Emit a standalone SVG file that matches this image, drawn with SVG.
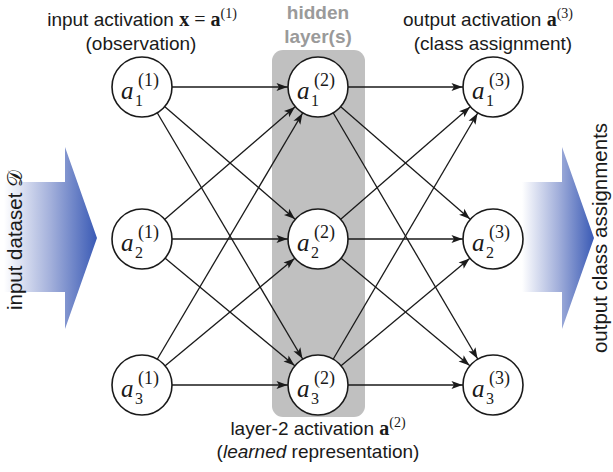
<svg xmlns="http://www.w3.org/2000/svg" width="613" height="472" viewBox="0 0 613 472">
<style>
.t{font-family:"Liberation Sans Narrow","Liberation Sans",Arial,sans-serif;font-size:19px;fill:#1a1a1a}
.mb{font-family:"Liberation Serif","Times New Roman",serif;font-weight:bold;font-size:20px}
.m{font-family:"Liberation Serif","Times New Roman",serif;font-size:20px}
.sp{font-family:"Liberation Serif","Times New Roman",serif;font-size:14px}
.hid{font-family:"Liberation Sans Narrow","Liberation Sans",Arial,sans-serif;font-weight:bold;font-size:19px;fill:#9a9a9a}
.side{font-family:"Liberation Sans Narrow","Liberation Sans",Arial,sans-serif;font-size:20.5px;fill:#1a1a1a}
.na{font-family:"Liberation Serif","Times New Roman",serif;font-style:italic;font-size:25px;fill:#1a1a1a}
.ns{font-family:"Liberation Serif","Times New Roman",serif;font-size:18px;fill:#1a1a1a}
.nb{font-family:"Liberation Serif","Times New Roman",serif;font-size:16px;fill:#1a1a1a}
.node{fill:#fff;stroke:#1a1a1a;stroke-width:1.6}
.e{stroke:#1a1a1a;stroke-width:1.3;fill:none;marker-end:url(#ah)}
</style>
<defs>
<marker id="ah" markerUnits="userSpaceOnUse" markerWidth="12" markerHeight="8" refX="41.5" refY="4" orient="auto" overflow="visible">
<path d="M0,0 L11,4 L0,8 L2.5,4 z" fill="#1a1a1a"/>
</marker>
<linearGradient id="ga" x1="0" y1="0" x2="1" y2="0">
<stop offset="0" stop-color="#ffffff"/>
<stop offset="0.5" stop-color="#a3b0db"/>
<stop offset="1" stop-color="#3a5ab5"/>
</linearGradient>
</defs>

<g id="big-arrows">
<polygon points="4,182 65,182 65,147 97,238 65,329 65,292 4,292" fill="url(#ga)"/>
<polygon points="522,182 562,182 562,147 594,238 562,329 562,292 522,292" fill="url(#ga)"/>
</g>

<g id="hidden-layer">
<rect x="272" y="50" width="93" height="367" rx="11" fill="#c0c0c0"/>
<text class="hid" x="318" y="19" text-anchor="middle">hidden</text>
<text class="hid" x="318" y="43" text-anchor="middle">layer(s)</text>
</g>

<g id="labels">
<text class="t" x="142" y="26" text-anchor="middle">input activation <tspan class="mb">x</tspan><tspan class="m"> = </tspan><tspan class="mb">a</tspan><tspan class="sp" dy="-8">(1)</tspan></text>
<text class="t" x="141" y="50" text-anchor="middle">(observation)</text>
<text class="t" x="488" y="26" text-anchor="middle">output activation <tspan class="mb">a</tspan><tspan class="sp" dy="-8">(3)</tspan></text>
<text class="t" x="493" y="50" text-anchor="middle">(class assignment)</text>
<text class="t" x="318" y="435" text-anchor="middle">layer-2 activation <tspan class="mb">a</tspan><tspan class="sp" dy="-8">(2)</tspan></text>
<text class="t" x="318" y="458" text-anchor="middle">(<tspan font-style="italic">learned</tspan> representation)</text>
<text class="side" transform="translate(22,240) rotate(-90)" text-anchor="middle">input dataset <tspan font-family="'DejaVu Serif','DejaVu Sans',serif">𝒟</tspan></text>
<text class="side" transform="translate(607,238) rotate(-90)" text-anchor="middle">output class assignments</text>
</g>

<g id="connectors">
<line class="e" x1="142" y1="87" x2="318" y2="87"/>
<line class="e" x1="142" y1="87" x2="318" y2="239"/>
<line class="e" x1="142" y1="87" x2="318" y2="385"/>
<line class="e" x1="142" y1="239" x2="318" y2="87"/>
<line class="e" x1="142" y1="239" x2="318" y2="239"/>
<line class="e" x1="142" y1="239" x2="318" y2="385"/>
<line class="e" x1="142" y1="385" x2="318" y2="87"/>
<line class="e" x1="142" y1="385" x2="318" y2="239"/>
<line class="e" x1="142" y1="385" x2="318" y2="385"/>
<line class="e" x1="318" y1="87" x2="493" y2="87"/>
<line class="e" x1="318" y1="87" x2="493" y2="239"/>
<line class="e" x1="318" y1="87" x2="493" y2="385"/>
<line class="e" x1="318" y1="239" x2="493" y2="87"/>
<line class="e" x1="318" y1="239" x2="493" y2="239"/>
<line class="e" x1="318" y1="239" x2="493" y2="385"/>
<line class="e" x1="318" y1="385" x2="493" y2="87"/>
<line class="e" x1="318" y1="385" x2="493" y2="239"/>
<line class="e" x1="318" y1="385" x2="493" y2="385"/>
</g>

<g id="n11"><circle class="node" cx="142" cy="87" r="30"/><text class="na" x="121" y="99">a</text><text class="ns" x="138" y="86">(1)</text><text class="nb" x="135" y="106">1</text></g>
<g id="n21"><circle class="node" cx="142" cy="239" r="30"/><text class="na" x="121" y="251">a</text><text class="ns" x="138" y="238">(1)</text><text class="nb" x="135" y="258">2</text></g>
<g id="n31"><circle class="node" cx="142" cy="385" r="30"/><text class="na" x="121" y="397">a</text><text class="ns" x="138" y="384">(1)</text><text class="nb" x="135" y="404">3</text></g>
<g id="n12"><circle class="node" cx="318" cy="87" r="30"/><text class="na" x="297" y="99">a</text><text class="ns" x="314" y="86">(2)</text><text class="nb" x="311" y="106">1</text></g>
<g id="n22"><circle class="node" cx="318" cy="239" r="30"/><text class="na" x="297" y="251">a</text><text class="ns" x="314" y="238">(2)</text><text class="nb" x="311" y="258">2</text></g>
<g id="n32"><circle class="node" cx="318" cy="385" r="30"/><text class="na" x="297" y="397">a</text><text class="ns" x="314" y="384">(2)</text><text class="nb" x="311" y="404">3</text></g>
<g id="n13"><circle class="node" cx="493" cy="87" r="30"/><text class="na" x="472" y="99">a</text><text class="ns" x="489" y="86">(3)</text><text class="nb" x="486" y="106">1</text></g>
<g id="n23"><circle class="node" cx="493" cy="239" r="30"/><text class="na" x="472" y="251">a</text><text class="ns" x="489" y="238">(3)</text><text class="nb" x="486" y="258">2</text></g>
<g id="n33"><circle class="node" cx="493" cy="385" r="30"/><text class="na" x="472" y="397">a</text><text class="ns" x="489" y="384">(3)</text><text class="nb" x="486" y="404">3</text></g>
</svg>
